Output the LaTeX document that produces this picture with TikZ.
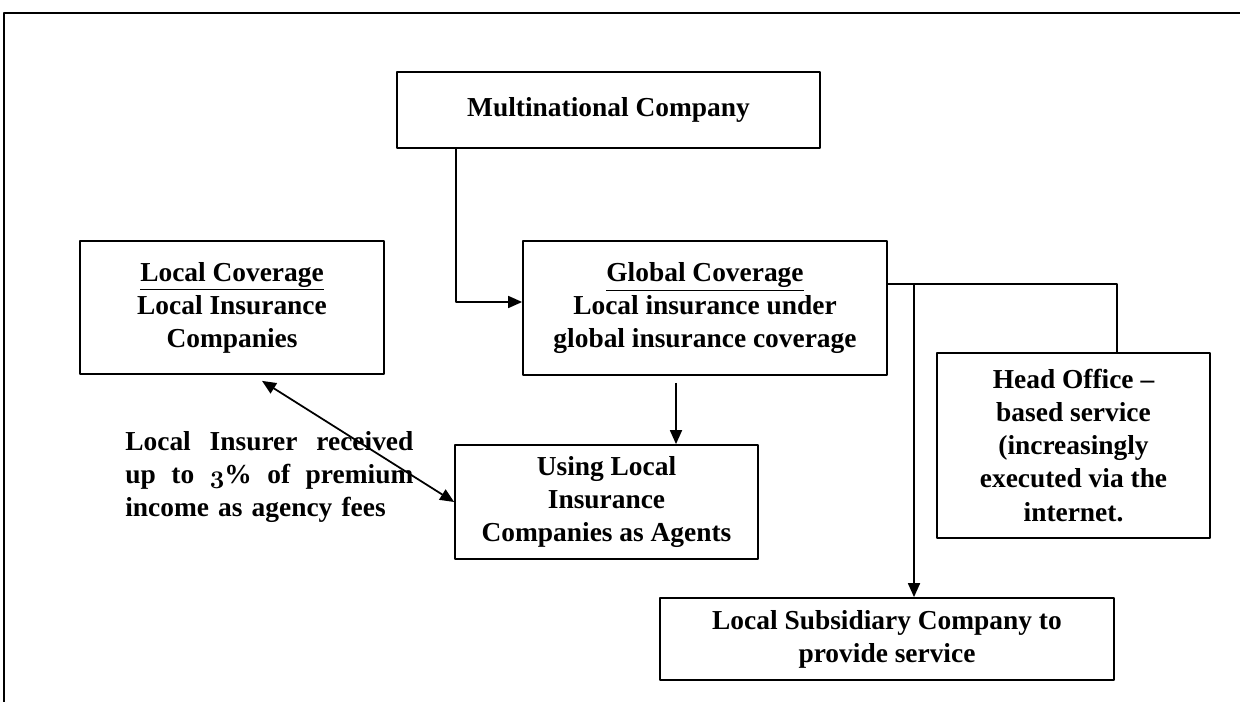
\documentclass[tikz,border=0pt]{standalone}
\usepackage{fontspec}
\setmainfont{Liberation Serif}
\usetikzlibrary{arrows.meta}
\newcommand{\oldthree}{{\usefont{OML}{cmm}{b}{it}3}}
\begin{document}
\begin{tikzpicture}[line join=round, >={Triangle[length=0.28cm,width=0.24cm]},
		font=\bfseries\fontsize{15.6}{18.8}\selectfont,
		box/.style={draw, line width=1pt, align=center, inner sep=2pt},
		link/.style={line width=1pt}]
	\useasboundingbox (0,0) rectangle (24.8,-14.04);
	% open frame round the page
	\draw[line width=1.2pt] (0.08,-14.04) -- (0.08,-0.26) -- (24.8,-0.26);
	% boxes
	\node[box, minimum width=8.46cm, minimum height=1.52cm] (mnc) at (12.17,-2.2) {Multinational Company};
	\node[box, minimum width=6.08cm, minimum height=2.66cm] (local) at (4.64,-6.15) {\underline{Local Coverage}\\Local Insurance\\Companies};
	\node[box, minimum width=7.28cm, minimum height=2.68cm] (global) at (14.1,-6.16) {\underline{Global Coverage}\\Local insurance under\\global insurance coverage};
	\node[box, minimum width=6.06cm, minimum height=2.28cm] (agents) at (12.13,-10.04) {Using Local\\Insurance\\Companies as Agents};
	\node[box, minimum width=5.46cm, minimum height=3.7cm] (head) at (21.47,-8.91) {Head Office --\\based service\\(increasingly\\executed via the\\internet.};
	\node[box, minimum width=9.08cm, minimum height=1.64cm] (subsid) at (17.74,-12.78) {Local Subsidiary Company to\\provide service};
	\node[anchor=north west, inner sep=0pt, text width=5.76cm, align=left] (fees) at (2.5,-8.63)
		{Local\hfill Insurer\hfill received\\up\hfill to\hfill \oldthree\%\hfill of\hfill premium\\income as agency fees};
	% connectors
	\coordinate (bend) at (9.12,-6.04);
	\draw[link, ->] (mnc.south -| bend) -- (bend) -- (bend -| global.west);
	\coordinate (gdrop) at (13.52,-7.66);
	\draw[link, ->] (gdrop) -- (gdrop |- agents.north);
	\draw[link, <->] ([xshift=0.6cm, yshift=-0.12cm]local.south) -- (agents.west);
	\coordinate (tap) at (22.34,-5.68);
	\coordinate (split) at (18.28,-5.68);
	\draw[link] (global.east |- tap) -- (tap) -- (tap |- head.north);
	\draw[link, ->] (split) -- (split |- subsid.north);
\end{tikzpicture}
\end{document}
